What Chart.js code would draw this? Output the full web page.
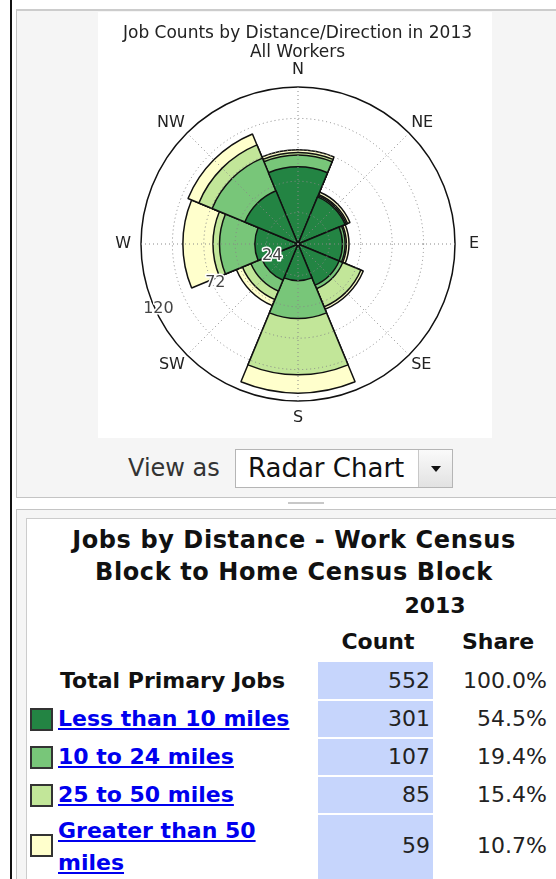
<!DOCTYPE html>
<html>
<head>
<meta charset="utf-8">
<script src="https://cdn.jsdelivr.net/npm/chart.js@4.4.1/dist/chart.umd.min.js"></script>
<style>
  body { margin: 0; width: 556px; height: 879px; overflow: hidden; position: relative; background: #fff; font-family: "DejaVu Sans", sans-serif; }
  .abs { position: absolute; }
  #leftline { left: 10px; top: 0; width: 2px; height: 879px; background: #111; }
  #toppanel { left: 16px; top: 9px; width: 560px; height: 486px; background: #f5f5f5; border-top: 2px solid #cccccc; border-left: 1px solid #c4c4c4; border-bottom: 1px solid #c4c4c4; }
  #chartbox { left: 98px; top: 12px; width: 394px; height: 426px; background: #fff; }
  #viewas { left: 128px; top: 452px; height: 32px; line-height: 32px; font-size: 24px; color: #333; }
  #select { left: 235px; top: 449px; width: 216px; height: 37px; background: #fff; border: 1px solid #b5b5b5; }
  #select .txt { position: absolute; left: 12px; top: 0; line-height: 37px; font-size: 26px; color: #111; }
  #select .btn { position: absolute; right: 0; top: 0; width: 33px; height: 37px; border-left: 1px solid #c8c8c8; background: linear-gradient(#fafafa, #e2e2e2); }
  #select .arrow { position: absolute; left: 12px; top: 16px; width: 0; height: 0; border-left: 5px solid transparent; border-right: 5px solid transparent; border-top: 6px solid #111; }
  #handle { left: 288px; top: 502px; width: 36px; height: 2px; background: #c8c8c8; }
  #botpanel { left: 16px; top: 509px; width: 560px; height: 380px; background: #f5f5f5; border-top: 1px solid #c4c4c4; border-left: 1px solid #c4c4c4; }
  #tablebox { left: 26px; top: 518px; width: 560px; height: 380px; background: #fff; border-top: 1px solid #cccccc; border-left: 1px solid #cccccc; }
  #ttitle { left: 26px; top: 524px; width: 536px; text-align: center; font-weight: bold; font-size: 24px; line-height: 32px; color: #111; letter-spacing: 0.6px; }
  .hdr { font-weight: bold; font-size: 22px; color: #111; text-align: center; height: 30px; line-height: 30px; }
  .cell { background: #c6d5fc; left: 318px; width: 115px; }
  .num { font-size: 22px; color: #222; text-align: right; }
  .lab { left: 58px; font-weight: bold; font-size: 22px; }
  .lab a { color: #0000ee; text-decoration: underline; }
  .sw { left: 30px; width: 19px; height: 19px; border: 2px solid #333; }
</style>
</head>
<body>
<div id="leftline" class="abs"></div>
<div id="toppanel" class="abs"></div>
<div id="chartbox" class="abs"><canvas id="rose" width="394" height="426"></canvas></div>
<div id="viewas" class="abs">View as</div>
<div id="select" class="abs"><span class="txt">Radar Chart</span><div class="btn"><div class="arrow"></div></div></div>
<div id="handle" class="abs"></div>
<div id="botpanel" class="abs"></div>
<div id="tablebox" class="abs"></div>
<div id="ttitle" class="abs">Jobs by Distance - Work Census<br>Block to Home Census Block</div>
<div id="tablerows"></div>
<script>
// job counts per direction, by distance band
const directions = ["N", "NE", "E", "SE", "S", "SW", "W", "NW"];
const lessThan10 = [59, 39, 34, 34, 28, 30, 33, 44];
const from10to24 = [9, 1, 2, 3, 29, 9, 27, 27];
const from25to50 = [2, 1, 1, 15, 43, 7, 5, 11];
const moreThan50 = [2, 2, 2, 2, 14, 5, 23, 9];

const bandNames = ["Less than 10 miles", "10 to 24 miles", "25 to 50 miles", "Greater than 50 miles"];
const bandColors = ["#238443", "#78c679", "#c2e699", "#ffffcc"];

const radialMax = 120;
const radialStep = 24;
const radialTickLabels = [24, 72, 120];

// table
const tableYear = "2013";
const tableLabels = ["Total Primary Jobs"].concat(bandNames);
const tableCounts = [552, 301, 107, 85, 59];
const tableShares = ["100.0%", "54.5%", "19.4%", "15.4%", "10.7%"];

// ---- table ----
let html = "";
html += '<div class="abs hdr" style="left:380px;top:591px;width:110px;">' + tableYear + '</div>';
html += '<div class="abs hdr" style="left:328px;top:627px;width:100px;">Count</div>';
html += '<div class="abs hdr" style="left:448px;top:627px;width:100px;">Share</div>';
const rowTops = [662, 701, 739, 777, 815];
const rowHeights = [37, 36, 36, 36, 70];
tableLabels.forEach((lab, i) => {
  const top = rowTops[i];
  const h = rowHeights[i];
  html += '<div class="abs cell" style="top:' + top + 'px;height:' + h + 'px;"></div>';
  const midY = i === 4 ? 846 : top + h / 2;
  html += '<div class="abs num" style="left:330px;width:100px;top:' + (midY - 15) + 'px;line-height:30px;">' + tableCounts[i] + '</div>';
  html += '<div class="abs num" style="left:440px;width:107px;top:' + (midY - 15) + 'px;line-height:30px;">' + tableShares[i] + '</div>';
  if (i === 0) {
    html += '<div class="abs lab" style="left:60px;top:' + (midY - 16) + 'px;line-height:32px;color:#111;">' + lab + '</div>';
  } else {
    const swTop = i === 4 ? 834 : midY - 11;
    html += '<div class="abs sw" style="top:' + swTop + 'px;background:' + bandColors[i - 1] + ';"></div>';
    const txt = i === 4 ? "Greater than 50<br>miles" : lab;
    const labTop = i === 4 ? 815 : midY - 16;
    html += '<div class="abs lab" style="top:' + labTop + 'px;line-height:32px;"><a href="#">' + txt + '</a></div>';
  }
});
document.getElementById("tablerows").innerHTML = html;

// ---- rose chart ----
// stack the bands: each dataset reaches the running total, smallest on top
const bands = [lessThan10, from10to24, from25to50, moreThan50];
let running = directions.map(() => 0);
const datasets = bands.map((band, i) => {
  running = running.map((v, j) => v + band[j]);
  return {
    label: bandNames[i],
    data: running.slice(),
    backgroundColor: bandColors[i],
    borderColor: "#111",
    borderWidth: 1.5,
    rAxisID: "r",
  };
});

const labelFont = { family: "DejaVu Sans", size: 16, lineHeight: 1 };
const labelPad = [9, 3, 14, 3, 9, 3, 10, 3];

const tickLabelPlugin = {
  id: "tickLabels",
  afterDraw(chart) {
    const scale = chart.scales.r;
    const ctx = chart.ctx;
    const a = 25 * Math.PI / 180;
    ctx.save();
    ctx.font = "16px 'DejaVu Sans'";
    ctx.textAlign = "center";
    ctx.textBaseline = "middle";
    ctx.lineJoin = "round";
    radialTickLabels.forEach((v) => {
      const d = scale.getDistanceFromCenterForValue(v) - 3;
      const x = scale.xCenter - d * Math.cos(a);
      const y = scale.yCenter + d * Math.sin(a);
      ctx.strokeStyle = "#fff";
      ctx.lineWidth = 3;
      ctx.strokeText(String(v), x, y);
      ctx.fillStyle = "#444";
      ctx.fillText(String(v), x, y);
    });
    ctx.restore();
  },
};

new Chart(document.getElementById("rose"), {
  type: "polarArea",
  data: { labels: directions, datasets: datasets },
  plugins: [tickLabelPlugin],
  options: {
    responsive: false,
    animation: false,
    layout: { padding: { left: 5, right: 0, top: 0, bottom: 12 } },
    plugins: {
      legend: { display: false },
      tooltip: { enabled: false },
      title: {
        display: true,
        text: ["Job Counts by Distance/Direction in 2013", "All Workers"],
        color: "#222",
        font: { family: "DejaVu Sans", size: 17, weight: "normal", lineHeight: "19px" },
        padding: { top: 12, bottom: 0 },
      },
    },
    scales: {
      r: {
        startAngle: -22.5,
        min: 0,
        max: radialMax,
        ticks: { display: false, stepSize: radialStep },
        grid: {
          z: 1,
          circular: true,
          color: (c) => (c.tick && c.tick.value === radialMax ? "#111" : "#888"),
          lineWidth: (c) => (c.tick && c.tick.value === radialMax ? 1.5 : 1),
        },
        border: { dash: (c) => (c.tick && c.tick.value === radialMax ? [] : [1, 3]) },
        angleLines: { display: false },
        pointLabels: {
          display: true,
          centerPointLabels: true,
          color: "#222",
          font: labelFont,
          padding: (c) => labelPad[c.index],
        },
      },
      dir: {
        axis: "r",
        type: "radialLinear",
        startAngle: 0,
        min: 0,
        max: radialMax,
        ticks: { display: false, stepSize: radialStep },
        grid: { display: false, z: 1 },
        angleLines: { display: true, color: "#888", lineWidth: 1, borderDash: [1, 3] },
        pointLabels: {
          display: true,
          color: "rgba(0,0,0,0)",
          font: labelFont,
          padding: (c) => labelPad[c.index],
        },
      },
    },
  },
});
</script>
</body>
</html>
